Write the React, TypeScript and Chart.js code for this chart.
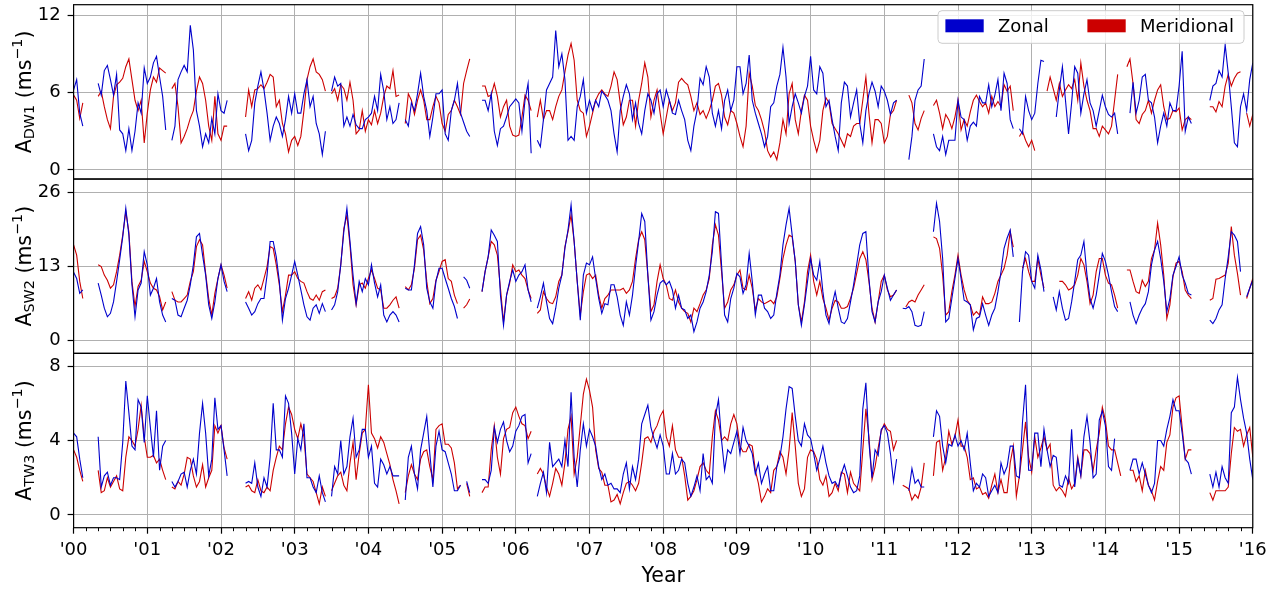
import React, { useEffect, useRef } from "react";
import { Chart, registerables } from "chart.js";

Chart.register(...registerables);
Chart.defaults.font.family = '"DejaVu Sans", sans-serif';

const n = null;
type Row = (number | null)[];

const startYear = 2000;
const endYear = 2016;
const samplesPerYear = 24;
const minorTicksPerYear = 6;
const yearTickLabels = ["'00", "'01", "'02", "'03", "'04", "'05", "'06", "'07", "'08", "'09", "'10", "'11", "'12", "'13", "'14", "'15", "'16"];
const seriesLabels = ["Zonal", "Meridional"];
const dw1Ticks = [0, 6, 12];
const sw2Ticks = [0, 13, 26];
const tw3Ticks = [0, 4, 8];

// one row per year, half-month samples
const zonalDW1: Row[] = [
  [6.2, 7.0, 4.4, 3.4, n, n, n, n, 6.7, 5.8, 7.7, 8.1, 7.0, 5.8, 7.4, 3.1, 2.8, 1.5, 3.2, 1.5, 3.0, 5.2, 4.4, 7.9],
  [6.7, 7.2, 8.3, 8.8, 7.2, 5.7, 3.1, n, 2.3, 3.4, 7.0, 7.6, 8.1, 7.6, 11.2, 9.3, 4.6, 3.4, 1.8, 2.8, 2.1, 4.0, 2.8, 5.9],
  [4.6, 4.4, 5.4, n, n, n, n, n, 2.8, 1.5, 2.3, 5.2, 6.5, 7.6, 6.2, 4.4, 2.3, 3.4, 4.1, 3.6, 2.6, 3.9, 5.7, 4.4],
  [5.9, 4.4, 4.4, 5.9, 7.0, 4.9, 5.7, 3.6, 2.8, 1.2, 3.0, n, 6.1, 7.2, 6.5, 6.7, 3.4, 4.1, 3.4, 4.3, 3.5, 3.2, 3.2, 3.9],
  [4.1, 4.4, 5.7, 4.6, 7.4, 6.1, 3.9, 4.9, 3.6, 3.9, 5.2, n, 3.9, 3.4, 5.2, 4.6, 5.9, 7.5, 5.7, 4.6, 2.6, 4.1, 5.9, 5.9],
  [6.2, 2.8, 2.3, 4.6, 5.4, 6.7, 4.4, 3.7, 3.0, 2.6, n, n, n, 5.4, 5.4, 4.6, 5.9, 3.0, 1.9, 3.2, 3.4, 4.1, 4.9, 5.2],
  [5.5, 5.2, 3.0, 5.4, 6.7, 1.3, n, 2.3, 1.8, 3.9, 6.2, 6.7, 7.2, 10.8, 8.0, 9.0, 7.0, 2.3, 2.6, 2.3, 4.9, 5.7, 7.0, 4.4],
  [5.4, 4.6, 5.4, 4.9, 6.1, 5.8, 5.4, 4.6, 2.8, 1.4, 4.6, 5.7, 6.6, 5.9, 3.9, 5.2, 3.6, 2.8, 4.6, 5.9, 5.4, 4.4, 5.9, 6.2],
  [4.9, 6.2, 5.4, 4.4, 4.3, 5.4, 4.6, 3.9, 2.3, 1.5, 3.4, 4.6, 7.1, 6.6, 8.0, 7.2, 4.4, 3.4, 4.6, 3.2, 5.4, 6.2, 4.6, 5.4],
  [8.0, 8.0, 5.9, 6.7, 8.9, 5.4, 4.4, 3.6, 2.8, 1.8, 2.6, 4.9, 5.2, 6.5, 7.4, 9.5, 7.2, 3.6, 4.9, 5.9, 5.2, 4.4, 5.7, 6.5],
  [8.8, 6.2, 5.9, 8.0, 7.5, 4.9, 5.4, 3.9, 2.6, 1.5, 5.2, 6.8, 6.5, 4.1, 5.2, 6.2, 3.6, 2.1, 4.6, 5.9, 6.8, 6.1, 4.9, 6.5],
  [6.1, 5.4, 4.3, 5.2, 5.4, n, n, n, 0.8, 2.6, 5.4, 6.2, 6.5, 8.6, n, n, 2.8, 1.8, 1.5, 2.6, 1.2, 2.3, 2.3, 2.3],
  [5.4, 4.1, 3.9, 2.3, 3.4, 3.7, 3.4, 5.7, 5.2, 5.2, 6.6, 4.9, 5.8, 7.0, 4.6, 7.5, 6.7, 3.9, 3.2, n, 3.2, 2.8, 5.7, 4.6],
  [3.9, 4.4, 6.7, 8.5, 8.4, n, n, n, 4.1, 6.2, 8.0, 5.4, 2.8, 5.2, 8.0, 7.5, 4.4, 5.9, 7.0, 5.2, 4.6, 3.4, 4.6, 5.8],
  [4.9, 4.3, 4.1, 4.4, 2.8, n, n, n, 4.4, 6.8, 4.4, 5.4, 7.2, 7.4, 5.4, 5.2, 4.1, 2.1, 3.4, 4.4, 3.4, 5.2, 4.6, 4.6],
  [6.5, 9.2, 3.0, 4.1, 3.6, n, n, n, n, n, 5.4, 6.5, 6.7, 7.7, 7.2, 9.7, 7.5, 4.9, 2.1, 1.8, 4.9, 5.9, 4.6, 7.0],
  [8.3],
];

const meridionalDW1: Row[] = [
  [5.8, 5.4, 4.0, 5.2, n, n, n, n, 5.7, 6.1, 4.9, 3.9, 3.2, 5.7, 6.6, 6.8, 7.1, 8.0, 8.6, 7.0, 5.4, 4.6, 5.4, 2.1],
  [4.4, 6.2, 7.2, 6.8, 7.9, 7.7, 7.5, n, 6.3, 6.7, 4.9, 2.1, 2.6, 3.2, 4.0, 4.6, 6.1, 7.2, 6.7, 5.4, 3.4, 2.3, 5.7, 2.8],
  [2.3, 3.4, 3.4, n, n, n, n, n, 4.1, 6.2, 4.9, 6.2, 6.3, 6.6, 6.3, 6.8, 7.4, 7.2, 4.9, 5.4, 3.6, 2.8, 1.4, 2.3],
  [2.6, 1.9, 2.6, 4.6, 7.0, 8.0, 8.6, 7.6, 7.4, 7.0, 6.1, n, 5.9, 6.3, 5.4, 6.6, 6.3, 5.4, 6.8, 5.4, 2.8, 3.1, 4.6, 3.0],
  [3.9, 3.5, 4.6, 3.6, 4.4, 5.7, 6.5, 6.3, 7.7, 5.7, 5.8, n, 3.6, 5.9, 5.4, 4.3, 5.4, 6.2, 5.4, 3.9, 3.9, 4.9, 5.7, 5.2],
  [3.6, 3.0, 4.3, 4.6, 5.4, 4.9, 4.3, 6.7, 7.7, 8.6, n, n, n, 6.5, 6.5, 5.7, 5.8, 6.7, 5.7, 4.1, 4.9, 5.4, 3.4, 2.7],
  [2.6, 2.7, 4.1, 5.8, 5.4, 4.6, n, 4.1, 5.4, 3.9, 4.6, 4.6, 3.9, 4.9, 5.7, 6.2, 7.6, 8.9, 9.8, 8.5, 5.4, 4.6, 4.4, 2.6],
  [3.4, 4.4, 5.4, 5.9, 6.2, 5.9, 5.7, 6.5, 7.6, 7.0, 5.2, 3.5, 4.1, 5.4, 5.4, 3.4, 5.4, 6.7, 8.3, 7.2, 4.1, 5.4, 6.2, 4.4],
  [2.8, 4.1, 5.4, 4.6, 5.2, 6.8, 7.1, 6.8, 6.6, 5.7, 4.6, 5.2, 4.3, 4.6, 4.0, 4.6, 5.4, 6.5, 6.7, 5.8, 4.1, 3.5, 4.6, 4.4],
  [3.6, 2.6, 1.8, 3.4, 7.5, 6.5, 5.0, 4.6, 3.9, 3.0, 1.5, 1.0, 1.4, 0.8, 2.1, 3.9, 2.8, 5.9, 6.7, 3.9, 2.8, 4.6, 5.8, 5.4],
  [3.4, 2.3, 1.4, 2.3, 4.6, 5.6, 5.2, 3.6, 3.2, 2.8, 2.3, 1.8, 2.8, 2.6, 3.4, 3.6, 3.6, 5.4, 7.2, 4.4, 2.1, 3.9, 3.9, 3.6],
  [2.1, 2.6, 4.3, 4.6, 5.4, n, n, n, 5.8, 5.2, 3.6, 3.1, 4.0, 4.6, n, n, 5.0, 5.4, 4.4, 3.2, 4.3, 3.9, 3.2, 4.1],
  [5.4, 3.1, 3.9, 3.4, 4.5, 5.4, 5.8, 5.3, 4.9, 5.2, 4.4, 5.7, 4.9, 5.3, 4.9, 6.6, 6.1, 6.5, 4.6, n, 2.6, 3.0, 2.3, 1.8],
  [2.3, 1.5, n, n, n, 6.1, 7.2, 6.3, 5.4, 6.7, 5.7, 6.2, 6.6, 6.3, 7.0, 5.4, 8.3, 6.5, 5.4, 4.6, 3.2, 3.2, 2.6, 3.4],
  [3.1, 2.8, 3.4, 5.4, 7.4, n, n, 8.0, 8.6, 6.7, 3.9, 3.6, 4.3, 4.6, 5.4, 4.4, 5.4, 6.2, 6.6, 4.9, 3.9, 4.0, 4.6, 4.5],
  [4.8, 3.1, 3.9, 4.1, 3.9, n, n, n, n, n, 4.9, 4.9, 4.5, 5.3, 4.9, 6.5, 7.4, 6.5, 7.1, 7.5, 7.6, n, 4.4, 3.4],
  [4.3],
];

const zonalSW2: Row[] = [
  [12.0, 10.9, 8.3, 8.9, n, n, n, n, 10.1, 8.0, 5.7, 4.2, 4.8, 6.8, 10.4, 14.2, 18.2, 23.2, 18.5, 9.8, 4.2, 8.9, 10.1, 15.6],
  [13.3, 8.0, 9.2, 10.9, 6.8, 4.5, 3.3, n, 7.4, 7.1, 4.5, 4.2, 5.7, 7.1, 9.8, 13.3, 18.2, 18.8, 15.0, 11.5, 6.3, 3.9, 6.8, 10.9],
  [13.3, 10.4, 8.6, n, n, n, n, n, 6.8, 5.7, 4.5, 5.1, 6.5, 7.4, 7.4, 11.5, 17.4, 17.4, 14.7, 10.4, 3.6, 7.4, 9.2, 11.5],
  [13.9, 11.5, 8.9, 6.3, 4.2, 3.6, 5.7, 6.3, 4.8, 6.5, 5.1, n, 5.4, 6.3, 8.6, 13.3, 19.1, 23.2, 17.4, 11.5, 6.5, 10.4, 8.6, 10.9],
  [9.8, 13.3, 10.1, 7.7, 9.8, 4.5, 3.3, 4.5, 5.1, 4.5, 3.3, n, 9.2, 8.9, 8.9, 13.3, 18.8, 20.0, 16.8, 9.2, 6.8, 5.7, 10.4, 12.7],
  [12.7, 10.9, 9.2, 7.4, 6.0, 3.9, n, 11.2, 10.6, 9.2, n, n, n, 8.6, 12.1, 14.7, 19.4, 18.5, 17.4, 8.0, 2.7, 8.0, 10.4, 12.4],
  [10.4, 11.5, 12.1, 13.3, 8.9, 6.8, n, 5.7, 7.7, 10.1, 6.8, 3.9, 3.0, 5.7, 9.2, 11.5, 16.2, 19.4, 23.8, 17.4, 10.4, 3.6, 11.5, 13.6],
  [13.3, 14.7, 10.9, 7.4, 4.8, 6.5, 6.3, 9.8, 9.8, 7.7, 4.5, 2.7, 6.8, 4.5, 8.0, 13.0, 17.4, 22.3, 20.9, 11.5, 3.6, 5.1, 8.0, 10.1],
  [10.6, 9.8, 10.4, 8.9, 5.7, 8.0, 5.7, 5.4, 3.9, 4.5, 1.6, 3.3, 5.7, 6.8, 8.6, 11.5, 15.6, 22.6, 22.3, 13.3, 4.5, 3.3, 7.4, 9.2],
  [11.8, 11.2, 8.3, 9.8, 15.3, 10.4, 4.5, 8.0, 8.0, 5.7, 5.1, 3.9, 4.5, 8.3, 11.5, 16.8, 20.3, 23.2, 18.5, 13.9, 6.3, 2.7, 6.3, 10.4],
  [14.4, 11.5, 10.6, 13.9, 8.6, 4.5, 3.0, 6.3, 8.6, 5.7, 3.3, 3.0, 3.9, 6.8, 9.8, 13.3, 16.8, 18.8, 19.1, 10.9, 5.1, 3.3, 6.8, 8.6],
  [11.5, 9.2, 7.1, 8.0, 8.9, n, 5.7, 5.6, 6.0, 5.1, 2.7, 2.5, 2.7, 5.1, n, n, 19.1, 24.1, 20.9, 14.4, 3.3, 3.9, 7.4, 10.9],
  [14.4, 10.9, 7.1, 6.8, 6.3, 1.9, 3.9, 4.2, 6.5, 4.5, 2.7, 4.5, 5.7, 8.6, 12.1, 16.2, 18.0, 19.4, 14.7, n, 3.3, 12.1, 15.6, 15.0],
  [10.4, 9.2, 15.0, 12.4, 8.6, n, n, 7.7, 5.4, 8.6, 5.7, 3.6, 3.9, 6.8, 10.4, 14.2, 15.0, 17.4, 11.5, 7.4, 5.7, 8.0, 11.5, 15.3],
  [13.9, 11.5, 8.6, 6.0, 5.1, n, n, n, 6.8, 4.5, 3.0, 4.5, 5.7, 6.5, 8.6, 13.3, 15.9, 17.4, 14.4, 10.4, 5.1, 7.4, 11.5, 13.0],
  [14.7, 11.5, 10.1, 8.3, 8.0, n, n, n, n, n, 3.6, 3.0, 3.9, 5.4, 6.3, 10.9, 14.7, 19.1, 18.5, 17.4, 12.1, n, 7.7, 9.2],
  [10.6],
];

const meridionalSW2: Row[] = [
  [16.8, 15.0, 10.4, 7.4, n, n, n, n, 13.3, 13.0, 11.5, 10.6, 9.2, 9.8, 12.1, 15.0, 18.5, 22.6, 19.1, 10.4, 6.0, 9.5, 10.6, 13.9],
  [12.1, 10.1, 9.2, 8.9, 7.7, 5.4, 6.8, n, 8.6, 7.1, 6.8, 6.8, 7.4, 8.0, 10.4, 12.1, 16.5, 17.7, 16.8, 11.8, 7.4, 4.5, 8.3, 10.9],
  [13.3, 11.5, 9.2, n, n, n, n, n, 7.4, 8.6, 7.1, 9.2, 9.8, 8.9, 10.9, 13.0, 16.5, 16.2, 13.3, 9.8, 5.1, 8.0, 11.5, 11.5],
  [12.1, 10.9, 10.4, 10.1, 8.6, 7.4, 7.1, 8.0, 7.1, 8.6, 8.9, n, 7.4, 7.7, 9.2, 13.3, 19.7, 22.0, 16.8, 9.8, 6.3, 9.8, 10.1, 9.2],
  [10.9, 12.4, 10.9, 9.2, 8.9, 5.7, 5.7, 6.3, 7.1, 7.7, 5.7, n, 9.5, 8.9, 9.8, 12.7, 17.7, 18.5, 15.9, 10.4, 6.5, 7.4, 10.6, 12.1],
  [13.9, 14.2, 10.9, 10.4, 8.0, 6.5, n, 5.7, 6.3, 7.3, n, n, n, 8.6, 12.1, 14.7, 17.4, 16.8, 15.0, 9.2, 3.3, 8.0, 10.1, 13.3],
  [12.1, 12.4, 11.5, 10.9, 8.9, 7.4, n, 4.8, 5.4, 8.6, 7.4, 6.7, 6.5, 7.7, 10.4, 11.5, 16.5, 19.1, 22.0, 17.4, 10.4, 4.5, 8.6, 11.5],
  [11.8, 10.9, 11.5, 8.0, 5.7, 7.4, 8.0, 8.9, 8.9, 8.9, 8.9, 9.2, 8.3, 8.9, 10.4, 14.4, 17.7, 19.1, 17.7, 11.5, 5.1, 6.3, 10.4, 13.3],
  [10.9, 9.8, 7.4, 7.1, 8.9, 6.8, 5.7, 5.1, 4.8, 3.3, 5.7, 5.1, 6.5, 8.0, 8.9, 10.9, 16.8, 20.3, 18.5, 12.1, 5.7, 6.8, 8.9, 9.8],
  [11.5, 12.4, 9.2, 8.9, 11.5, 9.2, 5.4, 7.4, 6.8, 6.5, 6.8, 7.1, 6.5, 7.7, 10.9, 14.4, 16.8, 18.5, 18.2, 13.9, 6.3, 3.3, 6.8, 12.1],
  [15.0, 10.4, 8.0, 10.4, 7.4, 5.7, 3.6, 5.7, 7.1, 6.8, 5.7, 5.7, 6.0, 7.4, 9.2, 11.8, 14.4, 15.6, 14.2, 10.4, 5.7, 3.3, 6.8, 10.4],
  [11.5, 8.9, 7.7, 8.0, 8.9, n, n, 5.9, 6.8, 7.1, 6.8, 8.0, 8.9, 9.8, n, n, 18.2, 17.9, 16.2, 11.5, 4.5, 5.1, 8.6, 11.5],
  [15.0, 11.5, 8.9, 7.1, 6.3, 4.5, 5.1, 4.5, 7.7, 6.5, 6.5, 6.8, 8.3, 10.4, 11.5, 12.7, 15.0, 19.1, 16.4, n, n, 12.7, 14.4, 12.1],
  [10.4, 10.4, 14.4, 11.5, 9.2, n, n, n, n, 10.4, 10.4, 9.8, 8.9, 9.2, 9.8, 11.5, 14.4, 13.3, 10.4, 6.5, 8.0, 12.1, 14.4, 14.4],
  [11.5, 10.1, 9.8, 8.0, 5.7, n, n, 12.4, 12.4, 10.4, 8.6, 8.3, 10.6, 9.5, 10.4, 14.4, 15.9, 20.6, 16.8, 11.5, 3.9, 6.3, 11.2, 13.6],
  [13.9, 12.1, 8.9, 8.0, 7.4, n, n, n, n, n, 7.1, 7.4, 10.8, 10.9, 11.2, 11.5, 13.6, 20.0, 15.0, 11.8, 8.0, n, 7.4, 9.2],
  [10.9],
];

const zonalTW3: Row[] = [
  [4.4, 4.2, 3.0, 2.0, n, n, n, n, 4.2, 1.5, 2.1, 2.3, 1.6, 2.0, 2.0, 1.9, 3.9, 7.2, 5.5, 3.7, 3.5, 6.2, 5.8, 3.9],
  [6.4, 4.7, 3.1, 5.6, 2.4, 3.7, 4.0, n, 1.8, 1.5, 1.8, 2.2, 2.3, 1.5, 2.4, 3.0, 2.2, 4.4, 6.0, 4.4, 2.1, 3.0, 6.3, 4.6],
  [4.8, 3.5, 2.1, n, n, n, n, n, 1.7, 1.8, 1.7, 2.8, 1.5, 1.0, 2.0, 1.5, 3.1, 6.0, 3.5, 3.5, 3.1, 6.4, 6.0, 4.4],
  [2.2, 4.1, 3.5, 4.9, 2.0, 2.0, 1.5, 1.2, 2.1, 1.2, 0.7, n, 1.0, 2.6, 2.2, 4.0, 2.2, 2.6, 4.2, 5.2, 3.1, 3.5, 4.6, 4.6],
  [3.1, 3.7, 1.7, 1.5, 3.0, 2.7, 2.2, 2.6, 2.1, 2.1, 2.1, n, 0.8, 3.1, 3.7, 2.2, 1.4, 3.5, 4.4, 5.3, 3.3, 1.5, 3.7, 4.5],
  [3.5, 3.4, 2.8, 2.2, 1.3, 1.3, 1.6, n, 1.8, 1.2, n, n, n, 1.9, 1.9, 1.7, 2.4, 4.7, 3.9, 4.6, 5.0, 4.0, 3.4, 3.7],
  [4.5, 4.8, 5.3, 5.4, 2.8, 3.3, n, 1.0, 1.7, 2.3, 1.2, 3.9, 2.6, 2.8, 3.0, 2.6, 4.0, 2.6, 6.6, 3.1, 1.5, 3.5, 4.9, 3.7],
  [4.6, 4.2, 3.7, 2.6, 1.9, 2.2, 1.6, 1.7, 1.4, 1.4, 1.2, 2.2, 2.8, 1.4, 2.6, 1.9, 3.0, 4.9, 5.4, 5.9, 4.7, 4.1, 3.6, 4.3],
  [3.7, 2.2, 2.2, 3.3, 2.2, 2.4, 3.0, 2.8, 1.7, 1.0, 1.5, 2.1, 1.3, 3.3, 1.9, 2.1, 1.7, 5.3, 6.2, 4.0, 2.4, 3.5, 3.3, 3.9],
  [4.5, 3.3, 4.7, 4.0, 3.7, 3.3, 2.2, 2.8, 1.7, 2.2, 2.6, 1.3, 1.3, 2.6, 3.1, 4.2, 5.7, 6.9, 6.8, 5.3, 4.0, 3.7, 4.9, 4.3],
  [4.1, 3.3, 2.4, 3.0, 3.7, 2.8, 2.1, 1.7, 1.8, 1.5, 2.2, 2.7, 2.1, 1.5, 1.2, 1.3, 2.1, 5.7, 7.1, 3.9, 2.0, 3.5, 3.2, 4.6],
  [4.8, 4.4, 3.3, 1.8, 3.0, n, n, n, 1.3, 2.5, 1.7, 1.9, 1.5, 1.5, n, n, 4.2, 5.6, 5.3, 3.7, 2.8, 3.8, 3.7, 4.3],
  [3.7, 4.0, 3.5, 4.4, 2.8, 1.3, 1.7, 1.5, 2.2, 2.0, 1.0, 1.3, 1.6, 1.2, 2.8, 2.2, 2.6, 3.7, 3.7, 2.1, 2.0, 5.0, 7.0, 2.4],
  [2.4, 4.4, 4.4, 2.6, 4.6, 3.5, 2.6, 3.2, 3.1, 1.6, 1.5, 2.1, 1.7, 4.6, 1.5, 3.0, 2.1, 4.2, 5.3, 3.9, 2.0, 2.2, 5.1, 5.6],
  [4.8, 2.6, 2.4, 4.1, n, n, n, n, 2.4, 3.0, 3.0, 2.2, 2.8, 2.2, 1.6, 1.2, 1.7, 4.0, 4.0, 3.7, 4.6, 5.3, 6.2, 5.6],
  [5.6, 4.4, 3.0, 2.8, 2.2, n, n, n, n, n, 2.2, 1.5, 2.3, 1.5, 2.6, 2.0, 1.7, 5.5, 5.8, 7.4, 6.2, 5.2, 4.4, 3.0],
  [1.9],
];

const meridionalTW3: Row[] = [
  [3.5, 3.1, 2.4, 1.8, n, n, n, n, 2.4, 1.2, 1.3, 2.0, 1.5, 1.8, 2.1, 1.4, 1.3, 3.1, 4.2, 4.0, 3.7, 4.6, 5.9, 4.2],
  [3.1, 3.1, 3.2, 2.8, 3.0, 2.4, 1.9, n, 1.5, 1.4, 1.8, 1.6, 2.2, 3.1, 3.0, 2.1, 1.5, 1.8, 2.7, 1.5, 2.0, 2.4, 4.8, 4.4],
  [4.8, 3.6, 3.0, n, n, n, n, n, 1.5, 1.6, 1.3, 1.2, 1.9, 1.3, 1.2, 1.5, 1.3, 2.4, 3.1, 3.7, 3.5, 4.9, 5.8, 5.4],
  [4.6, 4.1, 4.9, 4.2, 2.2, 2.0, 1.8, 1.2, 0.6, 1.5, 1.0, n, 1.3, 1.7, 2.1, 2.3, 1.6, 1.3, 2.8, 3.9, 1.9, 3.3, 4.4, 4.6],
  [7.0, 4.4, 4.1, 3.6, 4.2, 3.9, 3.3, 2.7, 1.9, 1.3, 0.6, n, 1.2, 2.1, 2.7, 2.2, 1.9, 3.0, 3.4, 3.5, 2.6, 1.9, 4.6, 4.8],
  [4.9, 3.8, 3.8, 3.6, 2.8, 1.4, 1.6, n, 1.7, 1.0, n, n, n, 1.2, 1.5, 1.5, 3.5, 4.8, 3.1, 2.2, 4.1, 4.6, 4.7, 5.5],
  [5.8, 5.3, 4.9, 4.8, 4.1, 4.5, n, 2.2, 2.5, 2.2, 1.5, 1.0, 1.7, 2.5, 2.2, 1.6, 2.8, 4.6, 5.3, 2.2, 3.1, 4.8, 6.5, 7.3],
  [6.7, 5.8, 3.5, 2.5, 2.3, 1.6, 1.6, 0.7, 0.8, 1.1, 0.6, 1.2, 1.7, 1.8, 1.6, 1.3, 1.7, 2.8, 4.1, 4.2, 3.9, 4.5, 4.8, 5.3],
  [5.6, 4.2, 3.7, 4.8, 3.5, 3.1, 3.1, 2.1, 0.8, 1.0, 1.3, 1.9, 2.6, 2.8, 2.4, 2.2, 4.2, 5.6, 5.1, 4.0, 4.2, 4.0, 4.9, 5.4],
  [4.9, 3.7, 3.4, 3.4, 3.8, 3.7, 2.4, 1.7, 0.7, 1.0, 1.4, 1.2, 2.4, 2.6, 3.4, 3.1, 2.2, 3.5, 5.5, 3.7, 1.7, 1.0, 1.4, 3.1],
  [3.5, 3.4, 3.0, 1.9, 1.6, 2.1, 1.0, 1.2, 1.7, 1.3, 2.3, 2.2, 1.2, 2.3, 1.7, 1.5, 1.3, 3.5, 5.7, 4.2, 1.9, 2.6, 3.6, 4.5],
  [4.9, 4.6, 4.5, 3.5, 4.0, n, 1.6, 1.5, 1.4, 0.8, 1.1, 0.9, 1.5, 2.8, n, n, 2.1, 3.9, 4.0, 2.4, 3.1, 4.5, 3.8, 4.2],
  [5.1, 3.7, 3.7, 3.1, 1.9, 2.0, 1.4, 1.5, 1.1, 1.2, 0.9, 1.6, 2.2, 1.2, 1.9, 1.2, 1.2, 2.8, 3.7, 1.0, 2.1, 3.5, 5.0, 3.1],
  [2.3, 4.2, 3.1, 3.6, 4.2, 3.5, 3.8, 1.6, 1.3, 1.5, 1.3, 1.0, 2.0, 1.4, 1.7, 3.1, 2.1, 3.5, 3.5, 3.3, 2.4, 3.5, 4.4, 5.8],
  [5.1, 3.7, 3.5, 3.5, 2.8, 2.1, n, n, 2.4, 2.4, 1.8, 2.1, 1.3, 2.4, 1.6, 1.3, 0.8, 1.8, 2.6, 2.4, 3.9, 4.3, 5.8, 6.3],
  [6.4, 4.7, 3.0, 3.5, 3.5, n, n, n, n, n, 1.2, 0.8, 1.3, 1.3, 1.3, 1.3, 1.5, 3.3, 4.7, 4.5, 4.6, 3.7, 4.3, 4.7],
  [3.1],
];

const BLUE = "#0000cc";
const RED = "#cc0000";
const GRID = "#b0b0b0";
const FONT = '"DejaVu Sans", sans-serif';

const panels = [
  { id: "yDW1", sub: "DW1", zonal: zonalDW1, merid: meridionalDW1, ticks: dw1Ticks, min: -0.7, max: 12.8, weight: 3 },
  { id: "ySW2", sub: "SW2", zonal: zonalSW2, merid: meridionalSW2, ticks: sw2Ticks, min: -2.21, max: 28.33, weight: 2 },
  { id: "yTW3", sub: "TW3", zonal: zonalTW3, merid: meridionalTW3, ticks: tw3Ticks, min: -0.685, max: 8.685, weight: 1 },
];

function toPoints(rows: Row[]) {
  const pts: { x: number; y: number | null }[] = [];
  rows.forEach((row, yi) => {
    row.forEach((v, j) => {
      pts.push({ x: startYear + yi + j / samplesPerYear, y: v });
    });
  });
  return pts;
}

function drawYLabel(ctx: CanvasRenderingContext2D, sub: string, baseX: number, centerY: number) {
  const big = 20.5;
  const small = big * 0.7;
  const parts = [
    { text: "A", size: big, shift: 0 },
    { text: sub, size: small, shift: 0.19 * big },
    { text: " (ms", size: big, shift: 0 },
    { text: "\u22121", size: small, shift: -0.42 * big },
    { text: ")", size: big, shift: 0 },
  ];
  let total = 0;
  const widths = parts.map((p) => {
    ctx.font = `${p.size}px ${FONT}`;
    const w = ctx.measureText(p.text).width;
    total += w;
    return w;
  });
  ctx.save();
  ctx.translate(baseX, centerY);
  ctx.rotate(-Math.PI / 2);
  ctx.fillStyle = "#000";
  ctx.textBaseline = "alphabetic";
  ctx.textAlign = "left";
  let x = -total / 2;
  parts.forEach((p, i) => {
    ctx.font = `${p.size}px ${FONT}`;
    ctx.fillText(p.text, x, p.shift);
    x += widths[i];
  });
  ctx.restore();
}

function roundRectPath(ctx: CanvasRenderingContext2D, x: number, y: number, w: number, h: number, r: number) {
  ctx.beginPath();
  ctx.moveTo(x + r, y);
  ctx.lineTo(x + w - r, y);
  ctx.arcTo(x + w, y, x + w, y + r, r);
  ctx.lineTo(x + w, y + h - r);
  ctx.arcTo(x + w, y + h, x + w - r, y + h, r);
  ctx.lineTo(x + r, y + h);
  ctx.arcTo(x, y + h, x, y + h - r, r);
  ctx.lineTo(x, y + r);
  ctx.arcTo(x, y, x + r, y, r);
  ctx.closePath();
}

function drawLegend(ctx: CanvasRenderingContext2D, area: { right: number; top: number }) {
  const w = 306;
  const h = 32.6;
  const x0 = area.right - 8.8 - w;
  const y0 = area.top + 6;
  ctx.save();
  roundRectPath(ctx, x0, y0, w, h, 4);
  ctx.fillStyle = "rgba(255,255,255,0.8)";
  ctx.fill();
  ctx.strokeStyle = "#cccccc";
  ctx.lineWidth = 1;
  ctx.stroke();
  const colors = [BLUE, RED];
  const itemOffsets = [7.4, 149.4];
  ctx.font = `18px ${FONT}`;
  ctx.textBaseline = "alphabetic";
  ctx.textAlign = "left";
  seriesLabels.forEach((label, i) => {
    const px = x0 + itemOffsets[i];
    ctx.fillStyle = colors[i];
    ctx.fillRect(px, y0 + 8.6, 38.3, 13);
    ctx.fillStyle = "#000";
    ctx.fillText(label, px + 52.6, y0 + 15.1 + 6.5);
  });
  ctx.restore();
}

const decorPlugin = {
  id: "panelDecor",
  afterDraw(chart: any) {
    const { ctx, chartArea } = chart;
    const xs = chart.scales.x;
    ctx.save();
    ctx.strokeStyle = "#000";
    ctx.lineWidth = 1;
    for (let yr = startYear; yr < endYear; yr++) {
      for (let k = 1; k < minorTicksPerYear; k++) {
        const px = Math.round(xs.getPixelForValue(yr + k / minorTicksPerYear)) + 0.5;
        ctx.beginPath();
        ctx.moveTo(px, chartArea.bottom);
        ctx.lineTo(px, chartArea.bottom + 3.5);
        ctx.stroke();
      }
    }
    ctx.lineWidth = 1.2;
    panels.forEach((p) => {
      const s = chart.scales[p.id];
      ctx.strokeRect(chartArea.left, s.top, chartArea.right - chartArea.left, s.bottom - s.top);
    });
    ctx.restore();
    panels.forEach((p) => {
      const s = chart.scales[p.id];
      drawYLabel(ctx, p.sub, 30.5, (s.top + s.bottom) / 2);
    });
    drawLegend(ctx, chartArea);
  },
};

export default function App() {
  const ref = useRef<HTMLCanvasElement | null>(null);

  useEffect(() => {
    if (!ref.current) return;
    const datasets: any[] = [];
    panels.forEach((p) => {
      datasets.push({
        label: seriesLabels[0],
        data: toPoints(p.zonal),
        yAxisID: p.id,
        borderColor: BLUE,
        backgroundColor: BLUE,
        borderWidth: 1.1,
        pointRadius: 0,
        pointHoverRadius: 0,
        spanGaps: false,
        tension: 0,
        fill: false,
      });
    });
    panels.forEach((p) => {
      datasets.push({
        label: seriesLabels[1],
        data: toPoints(p.merid),
        yAxisID: p.id,
        borderColor: RED,
        backgroundColor: RED,
        borderWidth: 1.1,
        pointRadius: 0,
        pointHoverRadius: 0,
        spanGaps: false,
        tension: 0,
        fill: false,
      });
    });

    const yearValues = yearTickLabels.map((_, i) => startYear + i);
    const scales: any = {
      x: {
        type: "linear",
        position: "bottom",
        min: startYear,
        max: endYear,
        afterBuildTicks: (s: any) => {
          s.ticks = yearValues.map((v) => ({ value: v }));
        },
        afterFit: (s: any) => {
          s.height = 61.3;
          s.paddingLeft = 0;
          s.paddingRight = 0;
        },
        ticks: {
          autoSkip: false,
          maxRotation: 0,
          color: "#000",
          font: { size: 18, family: FONT },
          padding: 6,
          callback: (_v: any, i: number) => yearTickLabels[i],
        },
        grid: { color: GRID, lineWidth: 1, tickLength: 6, tickColor: "#000", tickWidth: 1.2 },
        border: { display: false },
        title: {
          display: true,
          text: "Year",
          color: "#000",
          font: { size: 20.5, family: FONT },
          padding: { top: 0, bottom: 0 },
        },
      },
    };
    panels.forEach((p) => {
      scales[p.id] = {
        type: "linear",
        position: "left",
        stack: "panels",
        stackWeight: 1,
        weight: p.weight,
        min: p.min,
        max: p.max,
        afterBuildTicks: (s: any) => {
          s.ticks = p.ticks.map((v) => ({ value: v }));
        },
        afterFit: (s: any) => {
          s.width = 73.6;
          s.paddingTop = 0;
          s.paddingBottom = 0;
        },
        ticks: {
          color: "#000",
          font: { size: 18, family: FONT },
          padding: 7,
          callback: (v: any) => String(v),
        },
        grid: { color: GRID, lineWidth: 1, tickLength: 6, tickColor: "#000", tickWidth: 1.2 },
        border: { display: false },
      };
    });

    const chart = new Chart(ref.current, {
      type: "line",
      data: { datasets },
      options: {
        animation: false,
        responsive: true,
        maintainAspectRatio: false,
        events: [],
        layout: { padding: { top: 4.7, right: 28.2, left: 0, bottom: 0 } },
        plugins: { legend: { display: false }, tooltip: { enabled: false }, title: { display: false } },
        scales,
      } as any,
      plugins: [decorPlugin],
    });
    return () => chart.destroy();
  }, []);

  return (
    <div style={{ position: "fixed", left: 0, top: 0, width: 1281, height: 589, background: "#fff" }}>
      <canvas ref={ref} />
    </div>
  );
}
